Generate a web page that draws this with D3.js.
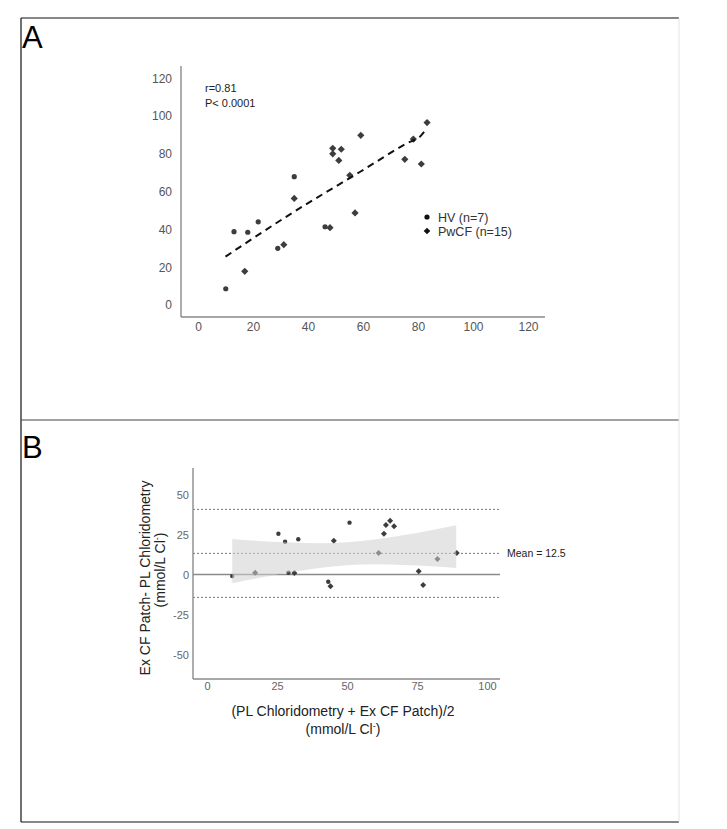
<!DOCTYPE html>
<html><head><meta charset="utf-8">
<script src="https://cdn.jsdelivr.net/npm/d3@7"></script>
<style>body{margin:0;background:#fff;} svg{display:block;font-family:"Liberation Sans",Arial,sans-serif;}</style>
</head><body>
<svg id="c" width="727" height="829"></svg>
<script>
// ---------- Panel A data (PL chloridometry vs Ex CF patch) ----------
const hvX   = [10.1, 13.1, 18.1, 21.9, 29.0, 35.0, 46.2];
const hvY   = [8.6, 38.8, 38.5, 44.0, 30.0, 67.9, 41.4];
const cfX   = [17.0, 31.2, 35.0, 48.0, 49.0, 52.1, 49.0, 51.2, 59.2, 55.2, 57.1, 75.2, 78.3, 81.2, 83.3];
const cfY   = [17.8, 31.9, 56.4, 40.9, 82.9, 82.4, 80.0, 76.5, 89.8, 68.6, 48.7, 77.1, 87.8, 74.6, 96.5];
const fitX  = [10, 35, 59, 76, 81, 83];
const fitY  = [25.6, 49.4, 70.5, 85.6, 89.5, 93];
const ticksA = [0, 20, 40, 60, 80, 100, 120];

// ---------- Panel B data (Bland-Altman) ----------
const baHvMean = [9.0, 25.5, 27.9, 29.1, 32.6, 50.9, 43.3];
const baHvDiff = [-1.0, 25.5, 20.5, 1.1, 22.0, 32.4, -4.5];
const baCfMean = [17.2, 31.2, 44.1, 45.3, 61.3, 63.2, 63.9, 65.4, 66.8, 75.6, 77.2, 82.3, 89.2];
const baCfDiff = [1.1, 0.9, -7.4, 21.1, 13.4, 25.5, 30.9, 33.6, 30.1, 2.0, -6.6, 9.7, 13.4];
const bandX     = [9, 20, 30, 40, 50, 60, 70, 80, 89];
const bandLower = [-5.5, -1.7, 1.5, 4.1, 5.8, 6.4, 6.0, 5.2, 4.1];
const bandUpper = [22.2, 20.8, 20.0, 19.6, 20.2, 21.9, 24.5, 27.7, 30.8];
const limitsB   = [40.7, 13.2, -14.3];   // upper LoA, mean, lower LoA
const meanLabel = "Mean = 12.5";
const ticksBx = [0, 25, 50, 75, 100];
const ticksBy = [50, 25, 0, -25, -50];

const svg = d3.select("#c");
const FONT = "Liberation Sans, Arial, sans-serif";

// frame
const frame = svg.append("g").attr("fill","none");
frame.append("line").attr("x1",21).attr("x2",21).attr("y1",18).attr("y2",822).attr("stroke","#111").attr("stroke-width",1.2);
frame.append("line").attr("x1",21).attr("x2",679).attr("y1",18).attr("y2",18).attr("stroke","#111").attr("stroke-width",1.2);
frame.append("line").attr("x1",21).attr("x2",679).attr("y1",420).attr("y2",420).attr("stroke","#444").attr("stroke-width",1);
frame.append("line").attr("x1",21).attr("x2",679).attr("y1",822).attr("y2",822).attr("stroke","#111").attr("stroke-width",1.2);
frame.append("line").attr("x1",679).attr("x2",679).attr("y1",18).attr("y2",822).attr("stroke","#e4e4e4").attr("stroke-width",1);

svg.append("text").attr("x",22).attr("y",48).attr("font-size",31).attr("fill","#000").text("A");
svg.append("text").attr("x",22).attr("y",458).attr("font-size",31).attr("fill","#000").text("B");

const diamond = d3.symbol().type(d3.symbolSquare);
const markColor = "#3d3d3d";
const fmt = d => String(d);

// ================= Panel A =================
const xA = d3.scaleLinear().domain([0,120]).range([198,528]);
const yA = d3.scaleLinear().domain([0,120]).range([305,78.2]);
const gA = svg.append("g");
gA.append("line").attr("x1",181).attr("x2",181).attr("y1",66).attr("y2",317).attr("stroke","#8a8a8a").attr("stroke-width",1.4);
gA.append("line").attr("x1",181).attr("x2",545).attr("y1",317).attr("y2",317).attr("stroke","#8a8a8a").attr("stroke-width",1.4);

gA.append("g").attr("transform","translate(0,322)")
  .call(d3.axisBottom(xA).tickValues(ticksA).tickFormat(fmt).tickSize(0).tickPadding(0))
  .call(g=>g.select(".domain").remove())
  .call(g=>g.selectAll("text").attr("font-size",12).attr("fill","#555").attr("font-family",FONT));
gA.append("g").attr("transform","translate(172,0)")
  .call(d3.axisLeft(yA).tickValues(ticksA).tickFormat(fmt).tickSize(0).tickPadding(0))
  .call(g=>g.select(".domain").remove())
  .call(g=>g.selectAll("text").attr("font-size",12).attr("fill","#555").attr("font-family",FONT));

gA.append("text").attr("x",205).attr("y",92).attr("font-size",11).attr("fill","#222").text("r=0.81");
gA.append("text").attr("x",205).attr("y",107).attr("font-size",11).attr("fill","#222").text("P< 0.0001");

// points
gA.selectAll("circle.hv").data(hvX.map((x,i)=>[x,hvY[i]])).enter().append("circle")
  .attr("cx",d=>xA(d[0])).attr("cy",d=>yA(d[1])).attr("r",2.6).attr("fill",markColor);
gA.selectAll("path.cf").data(cfX.map((x,i)=>[x,cfY[i]])).enter().append("path")
  .attr("d",diamond.size(26)())
  .attr("transform",d=>`translate(${xA(d[0])},${yA(d[1])}) rotate(45)`).attr("fill",markColor);

// fit line
const lineA = d3.line().x(d=>xA(d[0])).y(d=>yA(d[1])).curve(d3.curveMonotoneX);
gA.append("path").datum(fitX.map((x,i)=>[x,fitY[i]])).attr("d",lineA)
  .attr("fill","none").attr("stroke","#111").attr("stroke-width",2).attr("stroke-dasharray","7,5");

// legend
gA.append("circle").attr("cx",427).attr("cy",217).attr("r",2.6).attr("fill","#111");
gA.append("path").attr("d",diamond.size(22)()).attr("transform","translate(427,231) rotate(45)").attr("fill","#111");
gA.append("text").attr("x",438).attr("y",221.5).attr("font-size",12.5).attr("fill","#333").text("HV (n=7)");
gA.append("text").attr("x",438).attr("y",235.5).attr("font-size",12.5).attr("fill","#333").text("PwCF (n=15)");

// ================= Panel B =================
const xB = d3.scaleLinear().domain([0,100]).range([207,487]);
const yB = d3.scaleLinear().domain([-50,50]).range([654.5,494.5]);
const gB = svg.append("g");

// reference lines
gB.selectAll("line.lim").data(limitsB).enter().append("line")
  .attr("x1",193).attr("x2",500).attr("y1",d=>yB(d)).attr("y2",d=>yB(d))
  .attr("stroke","#777").attr("stroke-width",1).attr("stroke-dasharray","2,2");
gB.append("line").attr("x1",193).attr("x2",500).attr("y1",yB(0)).attr("y2",yB(0)).attr("stroke","#8a8a8a").attr("stroke-width",1.3);

// points
gB.selectAll("circle.hv").data(baHvMean.map((x,i)=>[x,baHvDiff[i]])).enter().append("circle")
  .attr("cx",d=>xB(d[0])).attr("cy",d=>yB(d[1])).attr("r",2.2).attr("fill",markColor);
gB.selectAll("path.cf").data(baCfMean.map((x,i)=>[x,baCfDiff[i]])).enter().append("path")
  .attr("d",diamond.size(18)())
  .attr("transform",d=>`translate(${xB(d[0])},${yB(d[1])}) rotate(45)`).attr("fill",markColor);

// confidence band (drawn over the points)
const area = d3.area().x(d=>xB(d[0])).y0(d=>yB(d[1])).y1(d=>yB(d[2])).curve(d3.curveMonotoneX);
gB.append("path").datum(bandX.map((x,i)=>[x,bandLower[i],bandUpper[i]])).attr("d",area)
  .attr("fill","#d0d0d0").attr("fill-opacity",0.55);

// axes
gB.append("line").attr("x1",193).attr("x2",193).attr("y1",468).attr("y2",679).attr("stroke","#8a8a8a").attr("stroke-width",1.4);
gB.append("line").attr("x1",193).attr("x2",500).attr("y1",679).attr("y2",679).attr("stroke","#8a8a8a").attr("stroke-width",1.4);
gB.append("g").attr("transform","translate(0,682)")
  .call(d3.axisBottom(xB).tickValues(ticksBx).tickFormat(fmt).tickSize(0).tickPadding(0))
  .call(g=>g.select(".domain").remove())
  .call(g=>g.selectAll("text").attr("font-size",11).attr("fill","#666").attr("font-family",FONT));
gB.append("g").attr("transform","translate(189,0)")
  .call(d3.axisLeft(yB).tickValues(ticksBy).tickFormat(fmt).tickSize(0).tickPadding(0))
  .call(g=>g.select(".domain").remove())
  .call(g=>g.selectAll("text").attr("font-size",11).attr("fill","#666").attr("font-family",FONT));

gB.append("text").attr("x",507).attr("y",yB(limitsB[1])+4).attr("font-size",10.5).attr("fill","#222").text(meanLabel);

// axis titles
gB.append("text").attr("x",343).attr("y",716).attr("text-anchor","middle").attr("font-size",14).attr("fill","#222")
  .text("(PL Chloridometry + Ex CF Patch)/2");
const t2 = gB.append("text").attr("x",343).attr("y",734).attr("text-anchor","middle").attr("font-size",14).attr("fill","#222");
t2.append("tspan").text("(mmol/L Cl");
t2.append("tspan").attr("font-size",9).attr("dy",-5).text("-");
t2.append("tspan").attr("dy",5).text(")");

gB.append("text").attr("transform","translate(150,578) rotate(-90)").attr("text-anchor","middle").attr("font-size",14).attr("fill","#222")
  .text("Ex CF Patch- PL Chloridometry");
const yl2 = gB.append("text").attr("transform","translate(165,570) rotate(-90)").attr("text-anchor","middle").attr("font-size",14).attr("fill","#222");
yl2.append("tspan").text("(mmol/L Cl");
yl2.append("tspan").attr("font-size",9).attr("dy",-5).text("-");
yl2.append("tspan").attr("dy",5).text(")");
</script>
</body></html>
